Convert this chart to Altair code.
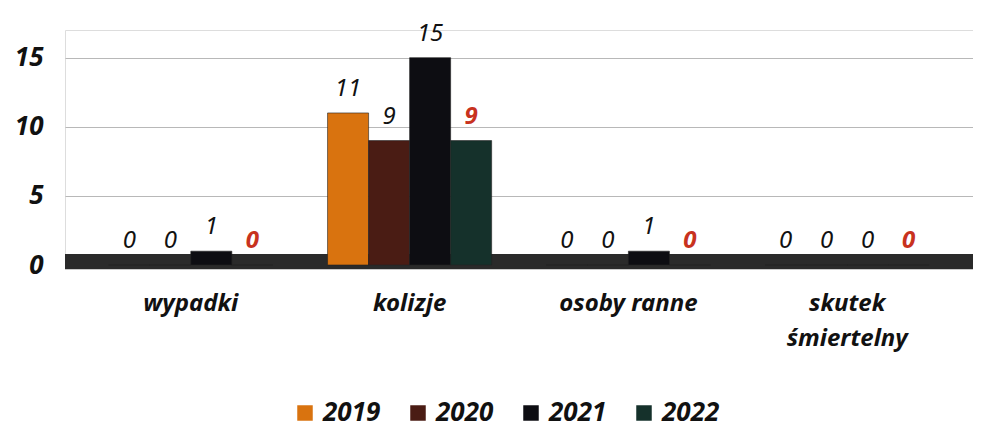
import altair as alt
import pandas as pd

categories = ["wypadki", "kolizje", "osoby ranne", "skutek śmiertelny"]
years = ["2019", "2020", "2021", "2022"]
v2019 = [0, 11, 0, 0]
v2020 = [0, 9, 0, 0]
v2021 = [1, 15, 1, 0]
v2022 = [0, 9, 0, 0]
colors = ["#d9730f", "#4a1c14", "#0d0d12", "#15312b"]

rows = []
for yr, vals in zip(years, [v2019, v2020, v2021, v2022]):
    for c, v in zip(categories, vals):
        rows.append({"kategoria": c, "rok": yr, "wartosc": v})
df = pd.DataFrame(rows)

W, H = 908, 235
FONT = "Noto Sans"

x_enc = alt.X(
    "kategoria:N",
    sort=categories,
    scale=alt.Scale(paddingInner=0.25, paddingOuter=0.2),
    axis=alt.Axis(
        title=None, domain=False, ticks=False, labelAngle=0,
        labelFont=FONT, labelFontSize=24, labelFontWeight="bold", labelFontStyle="italic",
        labelColor="#111", labelPadding=26, labelBaseline="top", labelLineHeight=35,
        labelExpr="datum.value == 'skutek śmiertelny' ? ['skutek', 'śmiertelny'] : datum.value",
    ),
)
y_scale = alt.Scale(domain=[0, 17], nice=False)
y_enc = alt.Y(
    "wartosc:Q",
    scale=y_scale,
    axis=alt.Axis(
        title=None, values=[0, 5, 10, 15], domain=False, ticks=False,
        grid=True, gridColor="#b8b8b8", gridWidth=1.2,
        labelFont=FONT, labelFontSize=26, labelFontWeight="bold", labelFontStyle="italic",
        labelColor="#111", labelPadding=22,
    ),
)
xoff = alt.XOffset("rok:N", sort=years)
color_enc = alt.Color(
    "rok:N",
    sort=years,
    scale=alt.Scale(domain=years, range=colors),
    legend=alt.Legend(
        title=None, orient="none", direction="horizontal", legendX=227, legendY=370,
        symbolType="square", symbolSize=240, symbolStrokeWidth=0,
        labelFont=FONT, labelFontSize=26, labelFontWeight="bold", labelFontStyle="italic",
        labelColor="#111", columnPadding=24, labelOffset=5, labelLimit=0,
    ),
)

base = alt.Chart(df)

floor = alt.Chart(pd.DataFrame({"a": [0]})).mark_rect(color="#2a2a2a").encode(
    x=alt.value(0), x2=alt.value(W),
    y=alt.datum(0.8, scale=y_scale), y2=alt.datum(-0.3),
)

bars = base.mark_bar(stroke="#222", strokeWidth=0.6).encode(
    x=x_enc, xOffset=xoff, y=y_enc, color=color_enc,
)

labels_black = base.transform_filter("datum.rok != '2022'").mark_text(
    font=FONT, fontSize=24, fontStyle="italic", color="#111", baseline="bottom", dy=-12,
).encode(x=alt.X("kategoria:N", sort=categories), xOffset=xoff, y="wartosc:Q", text="wartosc:Q")

labels_red = base.transform_filter("datum.rok == '2022'").mark_text(
    font=FONT, fontSize=24, fontStyle="italic", fontWeight="bold", color="#c8321e",
    baseline="bottom", dy=-12,
).encode(x=alt.X("kategoria:N", sort=categories), xOffset=xoff, y="wartosc:Q", text="wartosc:Q")

chart = alt.layer(floor, bars, labels_black, labels_red).properties(
    width=W, height=H,
    autosize=alt.AutoSizeParams(type="none"),
    padding={"left": 57, "top": 22, "right": 0, "bottom": 159},
).configure_view(stroke=None).configure(background="white")

chart.save("out.html", embed_options={"renderer": "svg", "actions": False})
